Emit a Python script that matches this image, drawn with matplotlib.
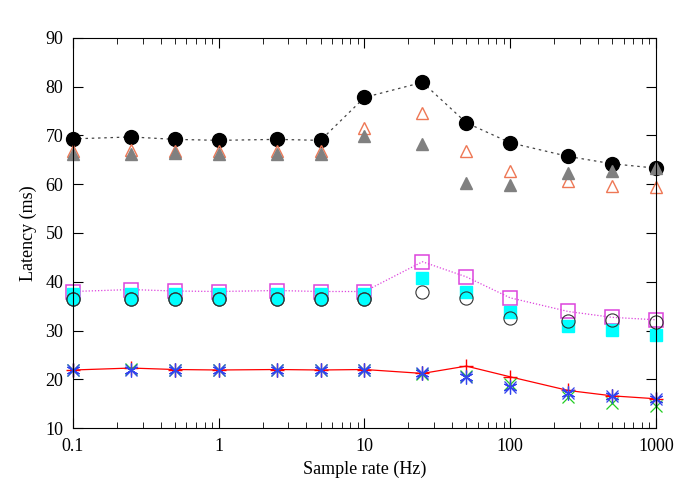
import matplotlib.pyplot as plt

plt.rcParams['font.family'] = ['Liberation Serif', 'DejaVu Serif']

# sample rates (Hz)
rates = [0.1, 0.25, 0.5, 1, 2.5, 5, 10, 25, 50, 100, 250, 500, 1000]

# latencies (ms) per series
red_plus = [21.9, 22.3, 22.0, 21.9, 22.0, 21.9, 22.0, 21.2, 22.7, 20.5, 17.7, 16.6, 16.0]
green_x = [21.8, 22.1, 21.9, 21.8, 21.9, 21.8, 21.9, 21.1, 20.7, 19.0, 16.3, 15.1, 14.5]
blue_star = [21.9, 22.0, 21.9, 21.9, 21.9, 21.9, 21.9, 21.3, 20.5, 18.5, 17.1, 16.5, 15.9]
magenta_sq = [38.0, 38.4, 38.1, 38.0, 38.2, 38.0, 38.0, 44.1, 41.0, 36.7, 33.9, 32.7, 32.2]
cyan_sq = [37.4, 37.4, 37.4, 37.4, 37.4, 37.4, 37.4, 40.7, 37.8, 33.7, 31.0, 30.1, 29.1]
open_circ = [36.4, 36.4, 36.4, 36.4, 36.4, 36.4, 36.4, 38.0, 36.6, 32.5, 32.0, 32.2, 31.8]
cyan_circ = [36.4, 36.4, 36.4, 36.4, 36.4, 36.4, 36.4]
black_circ = [69.3, 69.7, 69.2, 69.0, 69.2, 69.0, 77.8, 80.9, 72.6, 68.5, 65.7, 64.2, 63.3]
orange_tri = [66.9, 67.1, 66.9, 66.9, 66.8, 66.8, 71.6, 74.6, 66.8, 62.8, 60.6, 59.6, 59.4]
gray_tri = [66.3, 66.2, 66.4, 66.3, 66.3, 66.3, 69.8, 68.2, 60.3, 59.8, 62.3, 62.8, 63.4]

fig = plt.figure(figsize=(6.85, 4.93), dpi=100)
ax = fig.add_axes([0.1066, 0.1318, 0.851, 0.7912])

kw = dict(clip_on=False)
ax.plot(rates, red_plus, color='red', lw=0.9, marker='+', ms=10, mew=1, **kw)
ax.plot(rates, green_x, ls='none', color='#22cc22', marker='x', ms=8, mew=0.9, **kw)
ax.plot(rates, blue_star, ls='none', color='#3344ee', marker=(6, 2, 0), ms=10, mew=0.9, **kw)
ax.plot(rates, blue_star, ls='none', color='#3344ee', marker='x', ms=8, mew=0.9, **kw)
ax.plot(rates, magenta_sq, color='#dd44dd', lw=0.9, ls=(0, (1, 1.5)),
        marker='s', ms=9.5, mfc='none', mec='#dd44dd', mew=1.1, **kw)
ax.plot(rates, cyan_sq, ls='none', marker='s', ms=8.5, mfc='cyan', mec='cyan', **kw)
ax.plot(rates[:7], cyan_circ, ls='none', marker='o', ms=9.5, mfc='cyan', mec='#225555', mew=0.8, **kw)
ax.plot(rates, open_circ, ls='none', marker='o', ms=9.5, mfc='none', mec='#333333', mew=0.8, **kw)
ax.plot(rates, black_circ, color='#444444', lw=0.9, ls=(0, (2, 3)),
        marker='o', ms=10, mfc='black', mec='black', **kw)
ax.plot(rates, orange_tri, ls='none', marker='^', ms=9, mfc='none', mec='#ee7755', mew=1, **kw)
ax.plot(rates, gray_tri, ls='none', marker='^', ms=8, mfc='gray', mec='gray', **kw)

ax.set_xscale('log')
ax.set_xlim(0.1, 1000)
ax.set_ylim(10, 90)
ax.set_xticks([0.1, 1, 10, 100, 1000])
ax.set_xticklabels(['0.1', '1', '10', '100', '1000'])
ax.set_yticks(range(10, 91, 10))
ax.tick_params(which='both', direction='in', top=True, right=True, labelsize=13, pad=7)
ax.tick_params(which='major', length=7)
ax.tick_params(which='minor', length=4)
ax.set_xlabel('Sample rate (Hz)', fontsize=13, labelpad=4)
ax.set_ylabel('Latency (ms)', fontsize=13, labelpad=6)

fig.savefig('out.png', dpi=100)
